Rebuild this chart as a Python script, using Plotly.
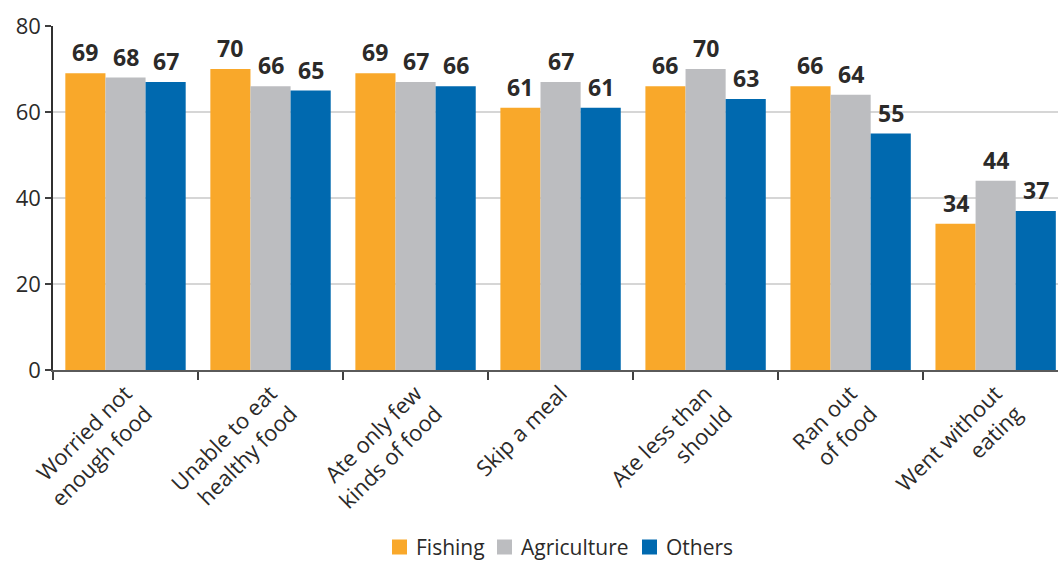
import plotly.graph_objects as go

# Food insecurity experiences by livelihood group (%)
categories = [
    "Worried not<br>enough food",
    "Unable to eat<br>healthy food",
    "Ate only few<br>kinds of food",
    "Skip a meal",
    "Ate less than<br>should",
    "Ran out<br>of food",
    "Went without<br>eating",
]
fishing = [69, 70, 69, 61, 66, 66, 34]
agriculture = [68, 66, 67, 67, 70, 64, 44]
others = [67, 65, 66, 61, 63, 55, 37]

series = [
    ("Fishing", fishing, "#F9A82A"),
    ("Agriculture", agriculture, "#BCBDC0"),
    ("Others", others, "#0069AF"),
]

FONT = "Open Sans"
TEXT = "#2B2A29"

WIDTH, HEIGHT = 1058, 562
MARGIN = dict(l=53, r=0, t=26, b=192)
X_RANGE = [-0.5, 6.43]
BARGAP = 0.17

plot_w = WIDTH - MARGIN["l"] - MARGIN["r"]
plot_h = HEIGHT - MARGIN["t"] - MARGIN["b"]


def px_to_paper(px, py):
    """Convert a pixel position on the page to paper coordinates."""
    return (px - MARGIN["l"]) / plot_w, (HEIGHT - MARGIN["b"] - py) / plot_h


fig = go.Figure()
for name, vals, color in series:
    fig.add_trace(go.Bar(
        x=categories, y=vals, name=name,
        marker=dict(color=color, line=dict(width=0)),
        showlegend=False,
    ))

# Value labels above each bar, shifted to the centre of its group slot
px_per_cat = plot_w / (X_RANGE[1] - X_RANGE[0])
bar_px = px_per_cat * (1 - BARGAP) / len(series)
for i, (name, vals, color) in enumerate(series):
    offset = (i - (len(series) - 1) / 2) * bar_px
    for cat, v in zip(categories, vals):
        fig.add_annotation(
            x=cat, y=v, text=str(v), showarrow=False,
            xanchor="center", yanchor="bottom", xshift=offset, yshift=3,
            font=dict(family=FONT, size=23, color=TEXT, weight="bold"),
        )

# Legend row along the bottom edge: swatch + label for each series
legend_row_y = 547
swatch = 15
legend_x = [392, 497, 642]
for (name, vals, color), lx in zip(series, legend_x):
    x0, y0 = px_to_paper(lx, legend_row_y + swatch / 2)
    x1, y1 = px_to_paper(lx + swatch, legend_row_y - swatch / 2)
    fig.add_shape(type="rect", xref="paper", yref="paper",
                  x0=x0, x1=x1, y0=y0, y1=y1,
                  fillcolor=color, line=dict(width=0))
    tx, ty = px_to_paper(lx + swatch + 7, legend_row_y)
    fig.add_annotation(
        xref="paper", yref="paper", x=tx, y=ty, text=name,
        showarrow=False, xanchor="left", yanchor="middle",
        font=dict(family=FONT, size=21, color=TEXT),
    )

fig.update_layout(
    width=WIDTH, height=HEIGHT,
    margin=MARGIN,
    paper_bgcolor="white", plot_bgcolor="white",
    barmode="group", bargap=BARGAP, bargroupgap=0,
    font=dict(family=FONT, color=TEXT),
    showlegend=False,
    xaxis=dict(
        range=X_RANGE,
        tickangle=-45,
        tickfont=dict(family=FONT, size=22, color=TEXT),
        showline=True, linecolor="#5A5A5A", linewidth=2,
        ticks="outside", tickson="boundaries", ticklen=8,
        tickcolor="#404040", tickwidth=1.5,
        showgrid=False, automargin=False,
    ),
    yaxis=dict(
        range=[0, 80], tickvals=[0, 20, 40, 60, 80],
        tickfont=dict(family=FONT, size=22, color=TEXT),
        showline=True, linecolor="#303030", linewidth=1.5,
        ticks="outside", ticklen=6, tickcolor="#404040", tickwidth=1.5,
        showgrid=True, gridcolor="#D6D6D6", gridwidth=1.5,
        zeroline=False, automargin=False,
    ),
)

fig.write_html("out.html")
